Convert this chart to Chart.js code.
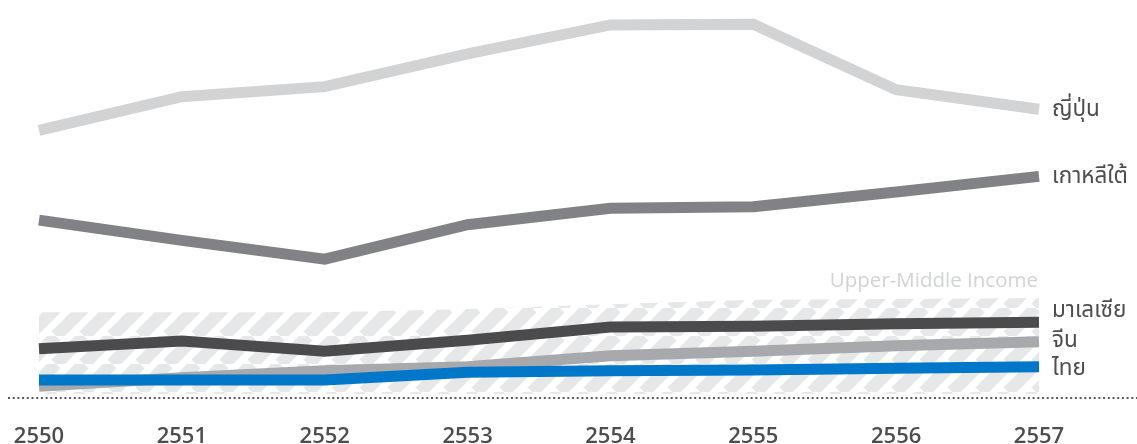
<!DOCTYPE html>
<html>
<head>
<meta charset="utf-8">
<script src="https://cdn.jsdelivr.net/npm/chart.js@4.4.0/dist/chart.umd.min.js"></script>
<style>
  html, body { margin: 0; padding: 0; background: #ffffff; }
  #wrap { width: 1137px; height: 444px; position: relative; }
</style>
</head>
<body>
<div id="wrap"><canvas id="c" width="1137" height="444"></canvas></div>
<script>
// Categories (Thai Buddhist-era years)
const years = ['2550', '2551', '2552', '2553', '2554', '2555', '2556', '2557'];

// Series values (estimated, thousand USD per capita)
const japan    = [34.3, 38.6, 39.9, 44.1, 47.8, 47.9, 39.5, 37.0];
const korea    = [22.8, 20.2, 17.8, 22.2, 24.3, 24.5, 26.4, 28.4];
const malaysia = [6.3, 7.3, 6.0, 7.4, 9.1, 9.2, 9.5, 9.7];
const china    = [1.5, 2.6, 3.5, 4.0, 5.4, 6.0, 6.7, 7.2];
const thailand = [2.3, 2.3, 2.3, 3.3, 3.5, 3.6, 3.8, 4.0];

// Upper-middle income band (top edge and bottom edge)
const upperMiddleTop = [11.0, 11.0, 11.0, 11.4, 12.0, 12.6, 12.7, 12.8];
const upperMiddleBottom = 0.5;

// Series names
const names = {
  japan: 'ญี่ปุ่น',
  korea: 'เกาหลีใต้',
  malaysia: 'มาเลเซีย',
  china: 'จีน',
  thailand: 'ไทย'
};
const bandLabel = 'Upper-Middle Income';

const thaiFont = "'Noto Sans Thai', 'Noto Sans', 'DejaVu Sans', sans-serif";

function makeHatch() {
  const s = 28;
  const c = document.createElement('canvas');
  c.width = s; c.height = s;
  const g = c.getContext('2d');
  g.fillStyle = '#ffffff';
  g.fillRect(0, 0, s, s);
  g.strokeStyle = '#e6e7e8';
  g.lineWidth = 12.7;
  g.lineCap = 'butt';
  for (let k = -1; k <= 1; k++) {
    g.beginPath();
    g.moveTo(k * s, s);
    g.lineTo((k + 1) * s, 0);
    g.stroke();
  }
  return g.createPattern(c, 'repeat');
}

const ctx = document.getElementById('c').getContext('2d');
const hatch = makeHatch();

function lineDs(label, data, color, key) {
  return {
    label, data, key,
    borderColor: color,
    backgroundColor: color,
    borderWidth: 11,
    borderCapStyle: 'butt',
    borderJoinStyle: 'miter',
    pointRadius: 0,
    pointHoverRadius: 0,
    tension: 0,
    fill: false
  };
}

const labelOffsets = { japan: 2, korea: 2, malaysia: -10, china: 1, thailand: 4 };

const overlay = {
  id: 'overlay',
  afterDatasetsDraw(chart) {
    const c = chart.ctx;
    const area = chart.chartArea;
    const y = chart.scales.y;
    const x = chart.scales.x;
    // dotted baseline
    c.save();
    c.strokeStyle = '#58595b';
    c.lineWidth = 2;
    c.setLineDash([2, 2.7]);
    c.beginPath();
    const by = Math.round(y.getPixelForValue(0));
    c.moveTo(8, by);
    c.lineTo(chart.width, by);
    c.stroke();
    c.restore();

    // band label
    c.save();
    c.fillStyle = '#d1d3d4';
    c.font = "20.5px 'Open Sans', sans-serif";
    c.textAlign = 'right';
    c.textBaseline = 'middle';
    const last = years.length - 1;
    c.fillText(bandLabel, x.getPixelForValue(last) - 1, y.getPixelForValue(upperMiddleTop[last]) - 17);
    c.restore();

    // series labels
    c.save();
    c.fillStyle = '#4d4d4f';
    c.font = '22.5px ' + thaiFont;
    c.textAlign = 'left';
    c.textBaseline = 'middle';
    chart.data.datasets.forEach((ds) => {
      if (!ds.key || ds.key === 'band') return;
      const v = ds.data[last];
      const py = y.getPixelForValue(v) + labelOffsets[ds.key];
      c.fillText(names[ds.key], area.right + 13, py);
    });
    c.restore();
  }
};

new Chart(ctx, {
  type: 'line',
  data: {
    labels: years,
    datasets: [
      lineDs(names.thailand, thailand, '#0077c8', 'thailand'),
      lineDs(names.china, china, '#a7a9ac', 'china'),
      lineDs(names.malaysia, malaysia, '#4b4b4d', 'malaysia'),
      lineDs(names.korea, korea, '#808285', 'korea'),
      lineDs(names.japan, japan, '#d1d3d4', 'japan'),
      {
        label: bandLabel,
        key: 'band',
        data: upperMiddleTop,
        borderWidth: 0,
        borderColor: 'rgba(0,0,0,0)',
        backgroundColor: hatch,
        pointRadius: 0,
        tension: 0,
        fill: { value: upperMiddleBottom }
      }
    ]
  },
  options: {
    responsive: false,
    devicePixelRatio: 1,
    animation: false,
    events: [],
    layout: { padding: { left: 39, right: 98, top: 0, bottom: 0 } },
    plugins: {
      legend: { display: false },
      tooltip: { enabled: false },
      filler: { drawTime: 'beforeDatasetsDraw' }
    },
    scales: {
      x: {
        type: 'category',
        offset: false,
        grid: { display: false, drawTicks: false },
        border: { display: false },
        afterFit(scale) {
          scale.height = 46;
          scale.paddingLeft = 0;
          scale.paddingRight = 0;
          scale.paddingTop = 0;
          scale.paddingBottom = 0;
        },
        ticks: {
          color: '#4d4d4f',
          font: { family: "'Open Sans', sans-serif", size: 22, weight: '600' },
          padding: 26,
          maxRotation: 0,
          autoSkip: false
        }
      },
      y: {
        display: false,
        min: 0,
        max: 51
      }
    }
  },
  plugins: [overlay]
});
</script>
</body>
</html>
